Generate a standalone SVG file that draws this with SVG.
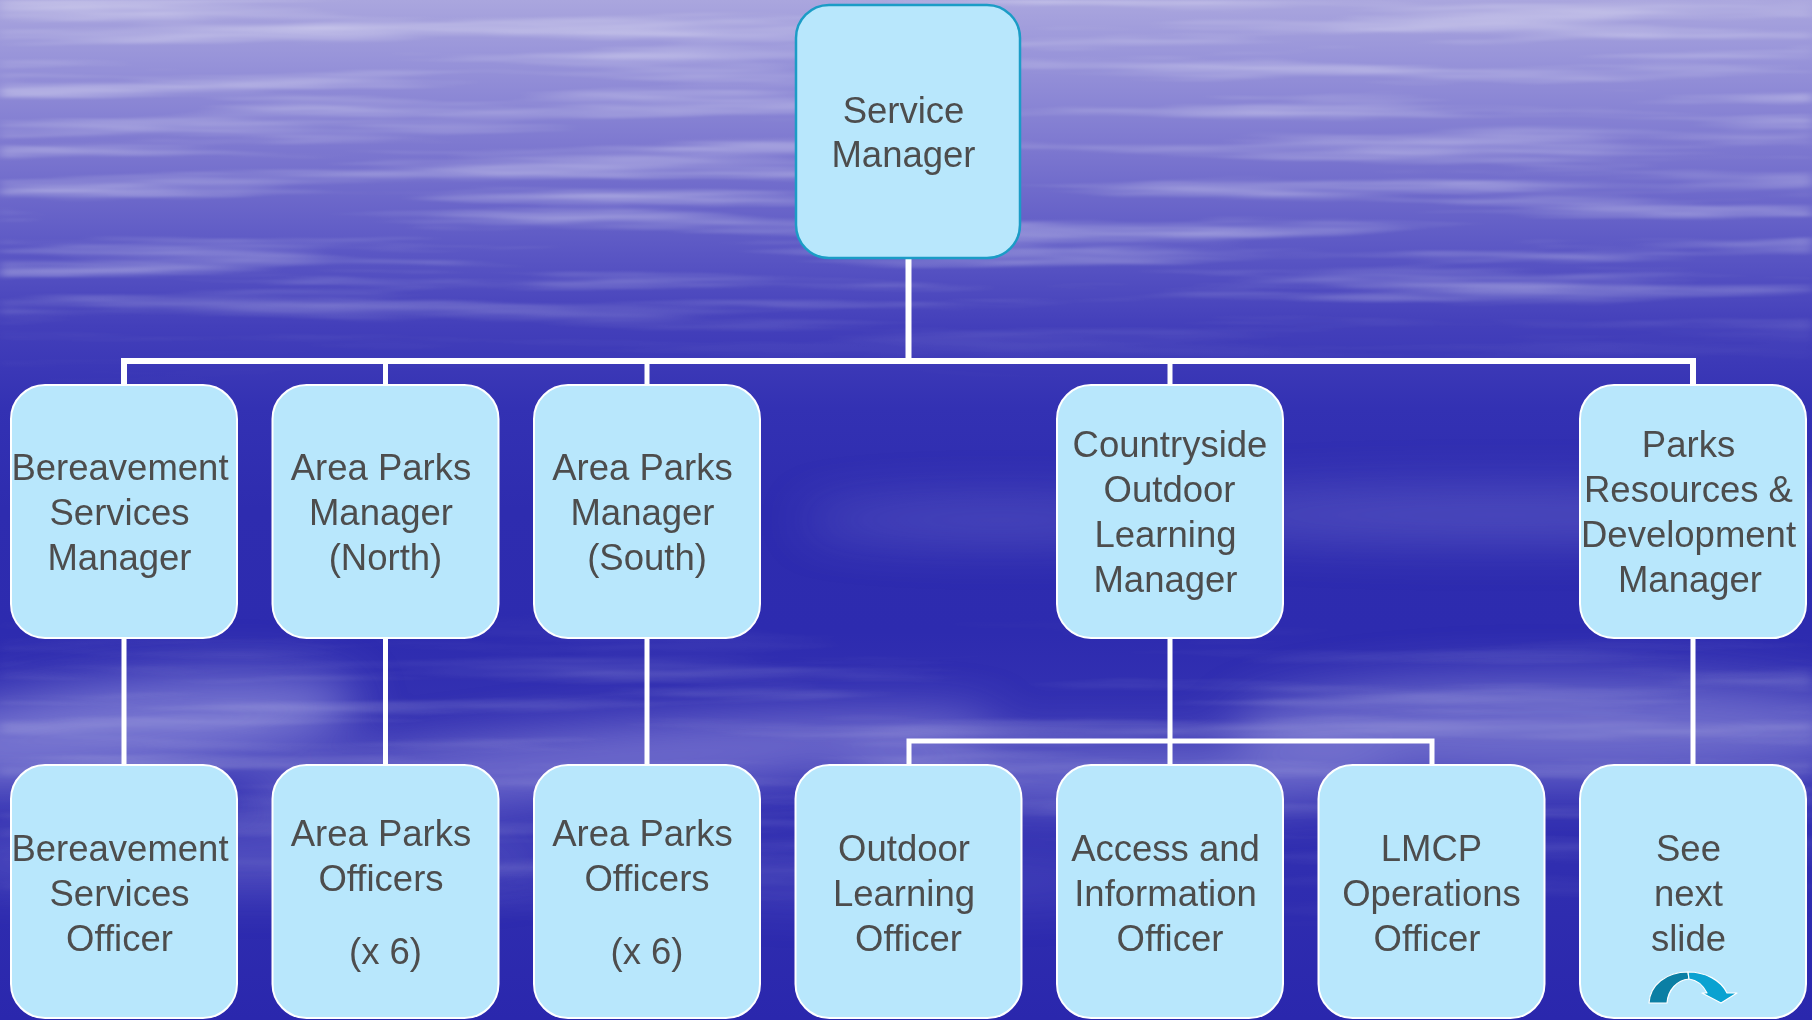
<svg xmlns="http://www.w3.org/2000/svg" width="1812" height="1020" viewBox="0 0 1812 1020">
  <defs>
    <style>
      .box { fill: #b8e7fc; stroke: #ffffff; stroke-width: 2; }
      .box.top { stroke: #1b9cc6; stroke-width: 2.5; }
      .lbl { font-family: "Liberation Sans", Arial, sans-serif; font-size: 36.5px; fill: #4d4d4d; text-anchor: middle; }
      .wire { fill: none; stroke: #ffffff; stroke-width: 5; stroke-linecap: square; }
      .wire.main { stroke-width: 6; }
    </style>
    <linearGradient id="sky" x1="0" y1="0" x2="0" y2="1">
      <stop offset="0" stop-color="#aaa6de"/>
      <stop offset="0.06" stop-color="#9793d9"/>
      <stop offset="0.15" stop-color="#7b76cf"/>
      <stop offset="0.24" stop-color="#5d59c5"/>
      <stop offset="0.32" stop-color="#433fba"/>
      <stop offset="0.4" stop-color="#3331b3"/>
      <stop offset="0.5" stop-color="#2e2caf"/>
      <stop offset="0.62" stop-color="#2d2baf"/>
      <stop offset="0.72" stop-color="#3633b3"/>
      <stop offset="0.85" stop-color="#302eb0"/>
      <stop offset="1" stop-color="#2a27ad"/>
    </linearGradient>
    <linearGradient id="wispFade" x1="0" y1="0" x2="0" y2="1">
      <stop offset="0" stop-color="#ffffff" stop-opacity="0.5"/>
      <stop offset="0.27" stop-color="#ffffff" stop-opacity="0.5"/>
      <stop offset="0.34" stop-color="#ffffff" stop-opacity="0.08"/>
      <stop offset="0.38" stop-color="#ffffff" stop-opacity="0"/>
      <stop offset="0.6" stop-color="#ffffff" stop-opacity="0"/>
      <stop offset="0.68" stop-color="#ffffff" stop-opacity="0.25"/>
      <stop offset="0.8" stop-color="#ffffff" stop-opacity="0.2"/>
      <stop offset="0.92" stop-color="#ffffff" stop-opacity="0"/>
    </linearGradient>
    <mask id="wispMask" maskUnits="userSpaceOnUse" x="0" y="0" width="1812" height="1020">
      <rect width="1812" height="1020" fill="url(#wispFade)"/>
    </mask>
    <filter id="streaks" x="0" y="0" width="1812" height="1020" filterUnits="userSpaceOnUse">
      <feTurbulence type="fractalNoise" baseFrequency="0.0024 0.05" numOctaves="4" seed="11"/>
      <feColorMatrix type="matrix" values="0 0 0 0 1  0 0 0 0 1  0 0 0 0 1  1.9 0 0 0 -0.88"/>
      <feGaussianBlur stdDeviation="6 1.2"/>
    </filter>
    <filter id="haze" x="-50%" y="-50%" width="200%" height="200%">
      <feGaussianBlur stdDeviation="24"/>
    </filter>
  </defs>

  <!-- sky background -->
  <rect width="1812" height="1020" fill="url(#sky)"/>
  <g filter="url(#haze)" fill="#a4a1e4">
    <ellipse cx="120" cy="730" rx="240" ry="48" opacity="0.6" transform="rotate(-7 120 730)"/>
    <ellipse cx="620" cy="760" rx="380" ry="32" opacity="0.55" transform="rotate(-5 620 760)"/>
    <ellipse cx="1120" cy="775" rx="280" ry="30" opacity="0.5"/>
    <ellipse cx="1560" cy="730" rx="330" ry="52" opacity="0.5"/>
    <ellipse cx="1500" cy="515" rx="360" ry="24" opacity="0.3"/>
    <ellipse cx="1000" cy="520" rx="200" ry="18" opacity="0.3"/>
    <ellipse cx="250" cy="860" rx="320" ry="26" opacity="0.35"/>
    <ellipse cx="900" cy="880" rx="260" ry="20" opacity="0.2"/>
  </g>
  <rect width="1812" height="1020" filter="url(#streaks)" mask="url(#wispMask)"/>

  <!-- connectors -->
  <g id="connectors">
    <line class="wire main" x1="908.5" y1="258" x2="908.5" y2="361"/>
    <polyline class="wire main" points="124,385 124,361 1693,361 1693,385"/>
    <line class="wire" x1="385.5" y1="361" x2="385.5" y2="385"/>
    <line class="wire" x1="647" y1="361" x2="647" y2="385"/>
    <line class="wire" x1="1170" y1="361" x2="1170" y2="385"/>
    <line class="wire" x1="124" y1="638" x2="124" y2="765"/>
    <line class="wire" x1="385.5" y1="638" x2="385.5" y2="765"/>
    <line class="wire" x1="647" y1="638" x2="647" y2="765"/>
    <line class="wire" x1="1693" y1="638" x2="1693" y2="765"/>
    <line class="wire" x1="1170" y1="638" x2="1170" y2="765"/>
    <polyline class="wire" points="909,765 909,741 1432,741 1432,765"/>
  </g>

  <!-- top level -->
  <g id="service-manager">
    <rect class="box top" x="796" y="5" width="224" height="253" rx="33"/>
    <text class="lbl" x="903.5" y="123">Service</text>
    <text class="lbl" x="903.5" y="167">Manager</text>
  </g>

  <!-- second level -->
  <g id="bereavement-manager">
    <rect class="box" x="11" y="385" width="226" height="253" rx="34"/>
    <text class="lbl" x="120" y="480">Bereavement</text>
    <text class="lbl" x="119.5" y="525">Services</text>
    <text class="lbl" x="119.5" y="570">Manager</text>
  </g>
  <g id="area-parks-north">
    <rect class="box" x="272.5" y="385" width="226" height="253" rx="34"/>
    <text class="lbl" x="381" y="480">Area Parks</text>
    <text class="lbl" x="381" y="525">Manager</text>
    <text class="lbl" x="385.5" y="570">(North)</text>
  </g>
  <g id="area-parks-south">
    <rect class="box" x="534" y="385" width="226" height="253" rx="34"/>
    <text class="lbl" x="642.5" y="480">Area Parks</text>
    <text class="lbl" x="642.5" y="525">Manager</text>
    <text class="lbl" x="647" y="570">(South)</text>
  </g>
  <g id="countryside-manager">
    <rect class="box" x="1057" y="385" width="226" height="253" rx="34"/>
    <text class="lbl" x="1170" y="457">Countryside</text>
    <text class="lbl" x="1169.5" y="502">Outdoor</text>
    <text class="lbl" x="1165.5" y="547">Learning</text>
    <text class="lbl" x="1165.5" y="592">Manager</text>
  </g>
  <g id="parks-resources-manager">
    <rect class="box" x="1580" y="385" width="226" height="253" rx="34"/>
    <text class="lbl" x="1688.5" y="457">Parks</text>
    <text class="lbl" x="1688.5" y="502">Resources &amp;</text>
    <text class="lbl" x="1688.5" y="547">Development</text>
    <text class="lbl" x="1690" y="592">Manager</text>
  </g>

  <!-- third level -->
  <g id="bereavement-officer">
    <rect class="box" x="11" y="765" width="226" height="253" rx="34"/>
    <text class="lbl" x="120" y="861">Bereavement</text>
    <text class="lbl" x="119.5" y="906">Services</text>
    <text class="lbl" x="119.5" y="951">Officer</text>
  </g>
  <g id="area-parks-officers-north">
    <rect class="box" x="272.5" y="765" width="226" height="253" rx="34"/>
    <text class="lbl" x="381" y="846">Area Parks</text>
    <text class="lbl" x="381" y="891">Officers</text>
    <text class="lbl" x="385.5" y="964">(x 6)</text>
  </g>
  <g id="area-parks-officers-south">
    <rect class="box" x="534" y="765" width="226" height="253" rx="34"/>
    <text class="lbl" x="642.5" y="846">Area Parks</text>
    <text class="lbl" x="647" y="891">Officers</text>
    <text class="lbl" x="647" y="964">(x 6)</text>
  </g>
  <g id="outdoor-learning-officer">
    <rect class="box" x="795.5" y="765" width="226" height="253" rx="34"/>
    <text class="lbl" x="904" y="861">Outdoor</text>
    <text class="lbl" x="904" y="906">Learning</text>
    <text class="lbl" x="908.5" y="951">Officer</text>
  </g>
  <g id="access-information-officer">
    <rect class="box" x="1057" y="765" width="226" height="253" rx="34"/>
    <text class="lbl" x="1165.5" y="861">Access and</text>
    <text class="lbl" x="1165.5" y="906">Information</text>
    <text class="lbl" x="1170" y="951">Officer</text>
  </g>
  <g id="lmcp-operations-officer">
    <rect class="box" x="1318.5" y="765" width="226" height="253" rx="34"/>
    <text class="lbl" x="1431.5" y="861">LMCP</text>
    <text class="lbl" x="1431.5" y="906">Operations</text>
    <text class="lbl" x="1427" y="951">Officer</text>
  </g>
  <g id="see-next-slide">
    <rect class="box" x="1580" y="765" width="226" height="253" rx="34"/>
    <text class="lbl" x="1688.5" y="861">See</text>
    <text class="lbl" x="1688.5" y="906">next</text>
    <text class="lbl" x="1688.5" y="951">slide</text>
    <!-- curved "next" arrow -->
    <g stroke="#ffffff" stroke-width="1.2" stroke-linejoin="round">
      <path d="M1649,1003 C1650,985 1666,972 1688,972 L1689,979 C1677,980 1668,990 1667,1003 Z" fill="#0b7fa4"/>
      <path d="M1688,972 C1705,972 1721,980 1727,993 L1737,993 L1721,1003 L1702,993 L1707,993 C1703,985 1697,980 1689,979 Z" fill="#0aa2d1"/>
    </g>
  </g>
</svg>
